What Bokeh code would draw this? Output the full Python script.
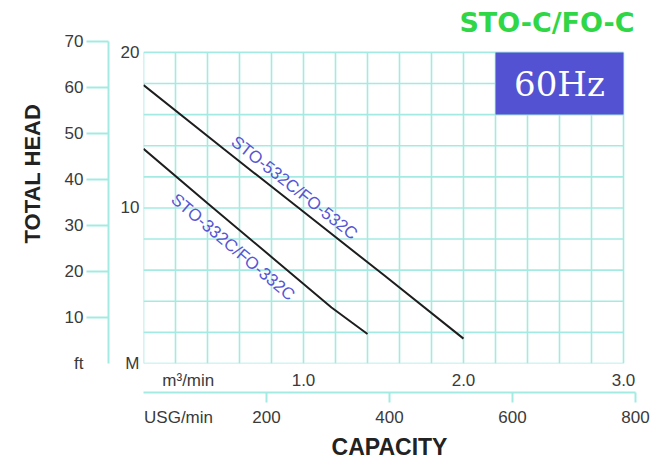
import numpy as np
from bokeh.plotting import figure
from bokeh.models import Range1d, LinearAxis, FixedTicker, Label, Title
from bokeh.embed import file_html
from bokeh.resources import INLINE

# ---- data ----
flow_532 = [0.0, 0.5, 1.0, 1.5, 2.0]          # m3/min
head_532 = [17.9, 13.8, 9.75, 5.7, 1.6]       # m
flow_332 = [0.0, 0.4, 0.8, 1.175, 1.3, 1.4]
head_332 = [13.8, 10.3, 6.85, 3.6, 2.65, 1.9]
m_ticks = [0, 10, 20]
m_labels = {0: "M"}
ft_ticks = [0, 10, 20, 30, 40, 50, 60, 70]
ft_labels = {0: "ft"}
m3_ticks = [0.28, 1.0, 2.0, 3.0]
m3_labels = {0.28: "m³/min", 1.0: "1.0", 2.0: "2.0", 3.0: "3.0"}
usg_ticks = [57, 200, 400, 600, 800]
usg_labels = {57: "USG/min"}
curve_names = ["STO-532C/FO-532C", "STO-332C/FO-332C"]
title_text = "STO-C/FO-C"
hz_text = "60Hz"

FONT = "Liberation Sans"
GRID = "#a3ebe2"
TXT = "#3a3a3a"
LBL = "#5656d2"

p = figure(width=662, height=465, output_backend="svg", toolbar_location=None,
           x_range=Range1d(0, 3.075), y_range=Range1d(0, 20.7),
           min_border_left=141, min_border_right=27, min_border_top=41,
           min_border_bottom=102, background_fill_color="white",
           border_fill_color="white", outline_line_color=None)
p.extra_y_ranges = {"ft": Range1d(0, 70)}
p.extra_x_ranges = {"usg": Range1d(0, 800)}
p.xgrid.visible = False
p.ygrid.visible = False

# ---- title ----
p.title.text = title_text
p.title.align = "right"
p.title.offset = 1
p.title.standoff = 8
p.title.text_font = "DejaVu Sans"
p.title.text_font_size = "27px"
p.title.text_font_style = "bold"
p.title.text_color = "#2fd646"

# ---- grid drawn on the data scales ----
gx = np.round(np.arange(0, 3.0001, 0.2), 2)
gy = np.arange(0, 20.001, 2)
p.segment(x0=gx, y0=0, x1=gx, y1=20, line_color=GRID, line_width=1.6)
p.segment(x0=0, y0=gy, x1=3.0, y1=gy, line_color=GRID, line_width=1.6)

# ---- 60Hz box ----
p.quad(left=[2.2], right=[3.0], bottom=[16], top=[20], fill_color="#5252d2", line_color=None)
p.add_layout(Label(x=2.6, y=18, text=hz_text, text_align="center", text_baseline="middle",
                   text_color="white", text_font="DejaVu Serif", text_font_size="34px"))

# ---- curves ----
p.line(flow_532, head_532, line_color="#1e1e1e", line_width=2)
p.line(flow_332, head_332, line_color="#1e1e1e", line_width=2)
p.add_layout(Label(x=0.943, y=11.29, text=curve_names[0], angle=-0.67, text_align="center",
                   text_baseline="middle", text_color=LBL, text_font=FONT, text_font_size="17px"))
p.add_layout(Label(x=0.559, y=7.48, text=curve_names[1], angle=-0.70, text_align="center",
                   text_baseline="middle", text_color=LBL, text_font=FONT, text_font_size="17px"))

# ---- axes ----
ya = p.yaxis[0]
ya.ticker = FixedTicker(ticks=m_ticks)
ya.major_label_overrides = m_labels
ya.axis_line_color = None
ya.major_tick_line_color = None
ya.minor_tick_line_color = None
ya.major_tick_out = 0
ya.major_tick_in = 0
ya.major_label_standoff = 4
ya.major_label_text_font = FONT
ya.major_label_text_font_size = "17px"
ya.major_label_text_color = TXT
ya.axis_label = " "
ya.axis_label_standoff = 0
ya.axis_label_text_font_size = "5px"

fa = LinearAxis(y_range_name="ft",
                ticker=FixedTicker(ticks=ft_ticks, minor_ticks=ft_ticks[1:]))
fa.major_label_overrides = ft_labels
fa.axis_line_color = GRID
fa.axis_line_width = 2
fa.major_tick_line_color = None
fa.major_tick_out = 22
fa.major_tick_in = 0
fa.minor_tick_line_color = GRID
fa.minor_tick_line_width = 2
fa.minor_tick_out = 22
fa.minor_tick_in = 0
fa.major_label_standoff = 3
fa.major_label_text_font = FONT
fa.major_label_text_font_size = "17px"
fa.major_label_text_color = TXT
p.add_layout(fa, "left")

p.add_layout(Title(text="TOTAL HEAD", align="left", offset=120, standoff=34,
                   text_font=FONT, text_font_size="22px", text_font_style="bold",
                   text_color="#222222"), "left")

xa = p.xaxis[0]
xa.ticker = FixedTicker(ticks=m3_ticks)
xa.major_label_overrides = m3_labels
xa.axis_line_color = None
xa.major_tick_line_color = None
xa.minor_tick_line_color = None
xa.major_tick_out = 0
xa.major_tick_in = 0
xa.major_label_standoff = 7
xa.major_label_text_font = FONT
xa.major_label_text_font_size = "17px"
xa.major_label_text_color = TXT

ua = LinearAxis(x_range_name="usg",
                ticker=FixedTicker(ticks=usg_ticks, minor_ticks=usg_ticks[1:]))
ua.major_label_overrides = usg_labels
ua.axis_line_color = GRID
ua.axis_line_width = 2
ua.major_tick_line_color = None
ua.major_tick_out = 10
ua.major_tick_in = 0
ua.minor_tick_line_color = GRID
ua.minor_tick_line_width = 2
ua.minor_tick_out = 10
ua.minor_tick_in = 0
ua.major_label_standoff = 5
ua.major_label_text_font = FONT
ua.major_label_text_font_size = "17px"
ua.major_label_text_color = TXT
ua.axis_label = "CAPACITY"
ua.axis_label_standoff = 4
ua.axis_label_text_font = FONT
ua.axis_label_text_font_size = "23px"
ua.axis_label_text_font_style = "bold"
ua.axis_label_text_color = "#222222"
p.add_layout(ua, "below")

open("out.html", "w").write(file_html(p, INLINE))
